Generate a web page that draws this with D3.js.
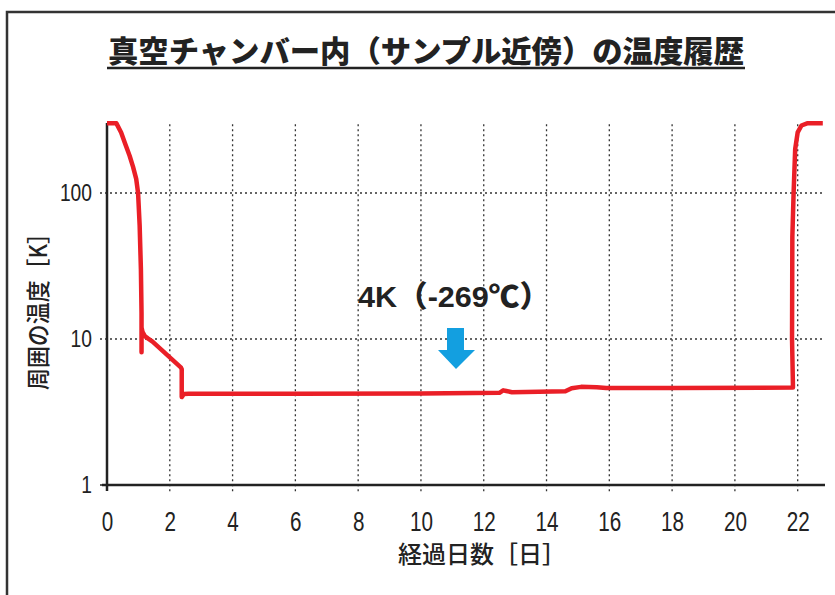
<!DOCTYPE html>
<html>
<head>
<meta charset="utf-8">
<title>真空チャンバー内の温度履歴</title>
<script src="https://d3js.org/d3.v7.min.js"></script>
<style type="text/css">
body { margin:0; background:#fff; }
svg { display:block; }
.tick text { font-family:"Liberation Sans Narrow","Liberation Sans",sans-serif; }
</style>
</head>
<body>
<svg id="chart" width="835" height="595"></svg>
<script>
// 経過日数 [日] と温度 [K]
var days  = [0, 0.3, 0.45, 0.57, 0.72, 0.83, 0.93, 0.99, 1.04, 1.08, 1.1, 1.1, 1.1, 1.13, 1.2, 1.3, 1.45, 2.35, 2.38, 2.38, 2.45, 2.6, 6, 10, 12.5, 12.62, 12.72, 12.9, 14.6, 14.8, 15.1, 15.6, 15.9, 18, 21.85, 21.82, 21.83, 21.87, 21.92, 22.0, 22.12, 22.3, 22.8];
var temps = [300, 300, 260, 220, 180, 151, 125, 100, 60, 30, 15, 8.1, 12, 11.2, 10.5, 10.1, 9.6, 6.4, 6.2, 4.0, 4.2, 4.22, 4.22, 4.24, 4.28, 4.45, 4.4, 4.32, 4.38, 4.6, 4.7, 4.68, 4.62, 4.62, 4.65, 10, 50, 100, 200, 260, 290, 300, 300];
var xTicks = [0, 2, 4, 6, 8, 10, 12, 14, 16, 18, 20, 22];
var yTicks = [1, 10, 100];

var svg = d3.select('#chart');
var x = d3.scaleLinear().domain([0, 22.87]).range([107, 825]);
var y = d3.scaleLog().domain([1, 1000]).range([485, 47]);

// 外枠
svg.append('path')
  .attr('d', 'M7,600 L7,12 L840,12')
  .attr('fill', 'none').attr('stroke', '#333').attr('stroke-width', 2.5);

// タイトル
svg.append('text')
  .attr('x', 426).attr('y', 62)
  .attr('text-anchor', 'middle')
  .attr('font-family', '"Noto Sans CJK JP", sans-serif')
  .attr('font-weight', 900).attr('font-size', 30)
  .attr('textLength', 636).attr('lengthAdjust', 'spacingAndGlyphs')
  .attr('fill', '#222')
  .text('真空チャンバー内（サンプル近傍）の温度履歴');
svg.append('line')
  .attr('x1', 107).attr('x2', 745).attr('y1', 68).attr('y2', 68)
  .attr('stroke', '#222').attr('stroke-width', 2.5);

// グリッド（点線）
var grid = svg.append('g').attr('stroke', '#333').attr('stroke-width', 1.3).attr('stroke-dasharray', '2,3');
grid.selectAll('line.v').data(xTicks.slice(1)).enter().append('line')
  .attr('x1', function(d){ return x(d); }).attr('x2', function(d){ return x(d); })
  .attr('y1', y(300) + 1).attr('y2', 493);
grid.selectAll('line.h').data(yTicks.slice(1)).enter().append('line')
  .attr('x1', 100).attr('x2', 825)
  .attr('y1', function(d){ return y(d); }).attr('y2', function(d){ return y(d); });

// 軸
var xAxis = d3.axisBottom(x).tickValues(xTicks).tickSize(0).tickPadding(27).tickFormat(d3.format('d'));
var gx = svg.append('g').attr('transform', 'translate(0,485)').call(xAxis);
gx.select('.domain').remove();
gx.selectAll('text').attr('font-size', 27).attr('fill', '#222')
  .attr('textLength', function(d){ return String(d).length * 11.5; })
  .attr('lengthAdjust', 'spacingAndGlyphs');
svg.append('line').attr('x1', 102).attr('x2', 825).attr('y1', 485).attr('y2', 485)
  .attr('stroke', '#222').attr('stroke-width', 2.5);

var yAxis = d3.axisLeft(y).tickValues(yTicks).tickSize(0).tickPadding(15).tickFormat(d3.format('d'));
var gy = svg.append('g').attr('transform', 'translate(107,0)').call(yAxis);
gy.select('.domain').remove();
gy.selectAll('text').attr('font-size', 24).attr('fill', '#222')
  .attr('textLength', function(d){ return String(d).length * 10.7; })
  .attr('lengthAdjust', 'spacingAndGlyphs');
svg.append('line').attr('x1', 107).attr('x2', 107).attr('y1', 123).attr('y2', 491)
  .attr('stroke', '#222').attr('stroke-width', 2.5);
svg.append('line').attr('x1', 100).attr('x2', 107).attr('y1', 485).attr('y2', 485)
  .attr('stroke', '#222').attr('stroke-width', 1.3).attr('stroke-dasharray', '2,3');

// 軸ラベル
svg.append('text')
  .attr('x', 482).attr('y', 563).attr('text-anchor', 'middle')
  .attr('font-family', '"Noto Sans CJK JP", sans-serif').attr('font-weight', 500)
  .attr('font-size', 24).attr('textLength', 168).attr('lengthAdjust', 'spacingAndGlyphs')
  .attr('fill', '#222').text('経過日数［日］');
svg.append('text')
  .attr('transform', 'translate(47,306) rotate(-90)').attr('text-anchor', 'middle')
  .attr('font-family', '"Noto Sans CJK JP", sans-serif').attr('font-weight', 500)
  .attr('font-size', 24).attr('textLength', 168).attr('lengthAdjust', 'spacingAndGlyphs')
  .attr('fill', '#222').text('周囲の温度［K］');

// 温度の線
var line = d3.line()
  .x(function(d, i){ return x(days[i]); })
  .y(function(d){ return y(d); })
  .curve(d3.curveLinear);
svg.append('path')
  .datum(temps)
  .attr('d', line)
  .attr('fill', 'none').attr('stroke', '#ea1f27').attr('stroke-width', 4.5)
  .attr('stroke-linejoin', 'round');

// 注記
svg.append('text')
  .attr('x', 358).attr('y', 307)
  .attr('font-family', '"Liberation Sans","Noto Sans CJK JP",sans-serif')
  .attr('font-weight', 900).attr('font-size', 30)
  .attr('textLength', 192).attr('lengthAdjust', 'spacingAndGlyphs')
  .attr('fill', '#222').text('4K（-269℃）');
svg.append('path')
  .attr('d', 'M447,328 L464,328 L464,350 L475,350 L456,369 L438,350 L447,350 Z')
  .attr('fill', '#139fe0');
</script>
</body>
</html>
